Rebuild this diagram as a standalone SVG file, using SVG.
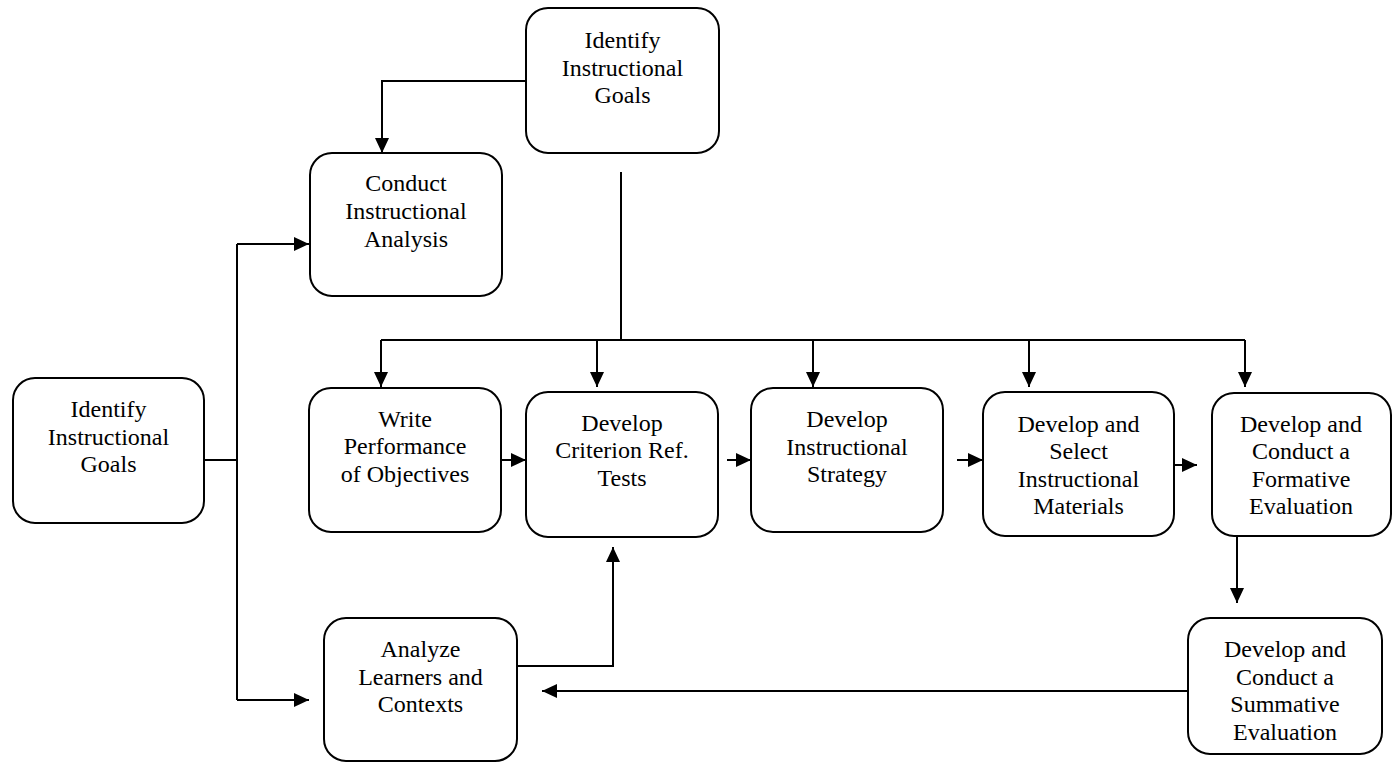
<svg xmlns="http://www.w3.org/2000/svg" width="1393" height="762" viewBox="0 0 1393 762">
<style>
.box{fill:#fff;stroke:#000;stroke-width:2}
.t{font-size:24px;fill:#000;text-anchor:middle}
.c{fill:none;stroke:#000;stroke-width:2}
</style>
<defs>
<marker id="ah" viewBox="0 0 15 14" refX="15" refY="7" markerWidth="15" markerHeight="14" markerUnits="userSpaceOnUse" orient="auto">
<path d="M0,0 L15,7 L0,14 Z" fill="#000"/>
</marker>
</defs>
<rect width="1393" height="762" fill="#fff"/>
<g id="connectors">
<path class="c" d="M526,81 H382 V153" marker-end="url(#ah)"/>
<path class="c" d="M621,172 V340"/>
<path class="c" d="M381,340 H1245"/>
<path class="c" d="M381,340 V387" marker-end="url(#ah)"/>
<path class="c" d="M597,340 V387" marker-end="url(#ah)"/>
<path class="c" d="M813,340 V387" marker-end="url(#ah)"/>
<path class="c" d="M1029,340 V387" marker-end="url(#ah)"/>
<path class="c" d="M1245,340 V387" marker-end="url(#ah)"/>
<path class="c" d="M204,460 H237"/>
<path class="c" d="M237,244 V700"/>
<path class="c" d="M237,244 H309" marker-end="url(#ah)"/>
<path class="c" d="M237,700 H309" marker-end="url(#ah)"/>
<path class="c" d="M501,460 H526" marker-end="url(#ah)"/>
<path class="c" d="M727,460 H751" marker-end="url(#ah)"/>
<path class="c" d="M957,460 H983" marker-end="url(#ah)"/>
<path class="c" d="M1175,465 H1197" marker-end="url(#ah)"/>
<path class="c" d="M1237,536 V603" marker-end="url(#ah)"/>
<path class="c" d="M1188,691 H542" marker-end="url(#ah)"/>
<path class="c" d="M517,666 H613 V547" marker-end="url(#ah)"/>
</g>
<g font-family="Liberation Serif, Times New Roman, serif">
<g id="n-goals-top">
<rect class="box" x="526" y="8" width="193" height="145" rx="22"/>
<text class="t" x="622.5" y="48">Identify</text>
<text class="t" x="622.5" y="76">Instructional</text>
<text class="t" x="622.5" y="103">Goals</text>
</g>
<g id="n-conduct">
<rect class="box" x="310" y="153" width="192" height="143" rx="22"/>
<text class="t" x="406" y="191">Conduct</text>
<text class="t" x="406" y="219">Instructional</text>
<text class="t" x="406" y="247">Analysis</text>
</g>
<g id="n-goals-left">
<rect class="box" x="13" y="378" width="191" height="145" rx="22"/>
<text class="t" x="108.5" y="417">Identify</text>
<text class="t" x="108.5" y="445">Instructional</text>
<text class="t" x="108.5" y="472">Goals</text>
</g>
<g id="n-write">
<rect class="box" x="309" y="388" width="192" height="144" rx="22"/>
<text class="t" x="405" y="427">Write</text>
<text class="t" x="405" y="454">Performance</text>
<text class="t" x="405" y="482">of Objectives</text>
</g>
<g id="n-criterion">
<rect class="box" x="526" y="392" width="192" height="145" rx="22"/>
<text class="t" x="622" y="431">Develop</text>
<text class="t" x="622" y="458">Criterion Ref.</text>
<text class="t" x="622" y="486">Tests</text>
</g>
<g id="n-strategy">
<rect class="box" x="751" y="388" width="192" height="144" rx="22"/>
<text class="t" x="847" y="427">Develop</text>
<text class="t" x="847" y="455">Instructional</text>
<text class="t" x="847" y="482">Strategy</text>
</g>
<g id="n-materials">
<rect class="box" x="983" y="392" width="191" height="144" rx="22"/>
<text class="t" x="1078.5" y="432">Develop and</text>
<text class="t" x="1078.5" y="459">Select</text>
<text class="t" x="1078.5" y="487">Instructional</text>
<text class="t" x="1078.5" y="514">Materials</text>
</g>
<g id="n-formative">
<rect class="box" x="1212" y="393" width="179" height="143" rx="22"/>
<text class="t" x="1301" y="432">Develop and</text>
<text class="t" x="1301" y="459">Conduct a</text>
<text class="t" x="1301" y="487">Formative</text>
<text class="t" x="1301" y="514">Evaluation</text>
</g>
<g id="n-analyze">
<rect class="box" x="324" y="618" width="193" height="143" rx="22"/>
<text class="t" x="420.5" y="657">Analyze</text>
<text class="t" x="420.5" y="685">Learners and</text>
<text class="t" x="420.5" y="712">Contexts</text>
</g>
<g id="n-summative">
<rect class="box" x="1188" y="618" width="194" height="136" rx="22"/>
<text class="t" x="1285" y="657">Develop and</text>
<text class="t" x="1285" y="685">Conduct a</text>
<text class="t" x="1285" y="712">Summative</text>
<text class="t" x="1285" y="740">Evaluation</text>
</g>
</g>
</svg>
